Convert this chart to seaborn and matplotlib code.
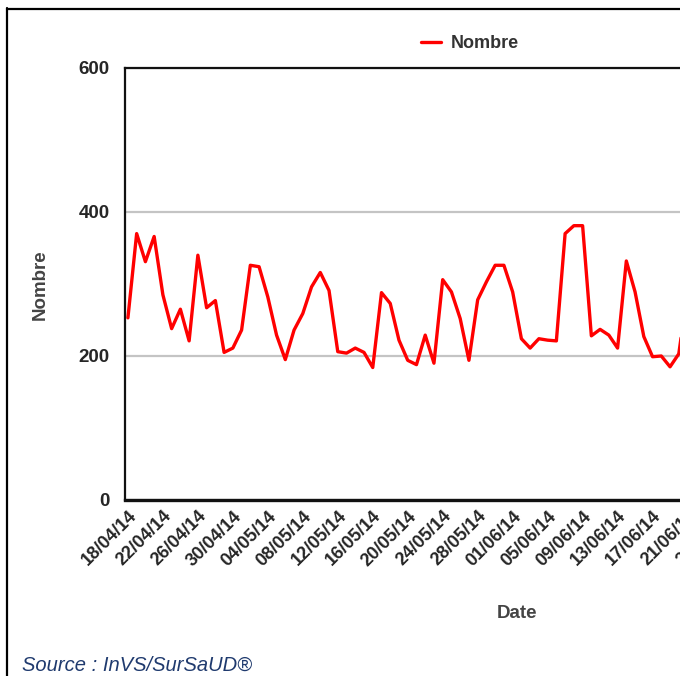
import pandas as pd
import numpy as np
import matplotlib
matplotlib.use("Agg")
import matplotlib.pyplot as plt
import matplotlib.dates as mdates
from matplotlib.lines import Line2D
import seaborn as sns

# daily counts from 18/04/14
nombre = [253, 370, 331, 366, 285, 238, 265, 221, 340, 267,
          277, 205, 211, 236, 326, 324, 282, 229, 195, 236,
          259, 296, 316, 291, 206, 204, 211, 205, 184, 288,
          273, 222, 194, 188, 229, 190, 306, 289, 252, 194,
          278, 303, 326, 326, 289, 224, 211, 224, 222, 221,
          370, 381, 381, 228, 237, 229, 211, 332, 289, 227,
          199, 200, 185, 203, 290]
dates = pd.date_range("2014-04-18", periods=len(nombre), freq="D")
tick_dates = pd.date_range("2014-04-18", periods=18, freq="4D")
y_ticks = [0, 200, 400, 600]

df = pd.DataFrame({"Date": dates, "Nombre": nombre})

sns.set_style("white")
plt.rcParams["font.family"] = ["Liberation Sans", "DejaVu Sans"]

fig = plt.figure(figsize=(6.8, 6.76), dpi=100)
ax = fig.add_axes([125 / 680, 176 / 676, 615 / 680, 432 / 676])

sns.lineplot(data=df, x="Date", y="Nombre", color="#ff0000", linewidth=2.4,
             label="Nombre", ax=ax)

ax.set_ylim(0, 600)
ax.set_yticks(y_ticks)
ax.set_xlim(dates[0] - pd.Timedelta(hours=8), dates[0] + pd.Timedelta(days=70))
ax.set_xticks(tick_dates)
ax.xaxis.set_major_formatter(mdates.DateFormatter("%d/%m/%y"))

ax.grid(axis="y", color="#c4c4c4", linewidth=1.6)
ax.set_axisbelow(True)
for s in ["left", "top", "bottom"]:
    ax.spines[s].set_color("#111111")
    ax.spines[s].set_linewidth(1.6)
ax.spines["bottom"].set_linewidth(2.4)
ax.spines["right"].set_visible(False)

ax.tick_params(axis="x", direction="inout", length=7, width=1.5, color="#111111",
               labelsize=13, pad=2)
ax.tick_params(axis="y", direction="inout", length=6, width=1.2, color="#111111",
               labelsize=13.5, pad=8)
for lab in ax.get_xticklabels():
    lab.set_rotation(45)
    lab.set_ha("right")
    lab.set_va("top")
    lab.set_rotation_mode("anchor")
    lab.set_fontweight("bold")
for lab in ax.get_yticklabels():
    lab.set_fontweight("bold")

ax.set_xlabel("")
ax.set_ylabel("")
fig.text(517 / 680, 1 - 614 / 676, "Date", ha="center", va="center",
         fontsize=13.5, fontweight="bold", color="#444444")
fig.text(40 / 680, 1 - 285 / 676, "Nombre", ha="center", va="center",
         rotation=90, fontsize=13.5, fontweight="bold", color="#444444")

ax.legend_.remove()
handle = Line2D([0], [0], color="#ff0000", linewidth=2.4)
fig.legend([handle], ["Nombre"], loc="center", bbox_to_anchor=(470 / 680, 1 - 44 / 676),
           frameon=False, handlelength=1.1, handletextpad=0.5,
           prop={"size": 13, "weight": "bold"}, labelcolor="#333333")

fig.text(22 / 680, 1 - 665 / 676, "Source : InVS/SurSaUD\u00ae", ha="left", va="center",
         fontsize=14.5, style="italic", color="#1f3a6e")

# outer frame of the original page
fig.add_artist(Line2D([7 / 680, 7 / 680], [0, 1 - 8 / 676], color="black", linewidth=1.6))
fig.add_artist(Line2D([7 / 680, 1], [1 - 9 / 676, 1 - 9 / 676], color="black", linewidth=1.6))

fig.savefig("out.png", dpi=100)
